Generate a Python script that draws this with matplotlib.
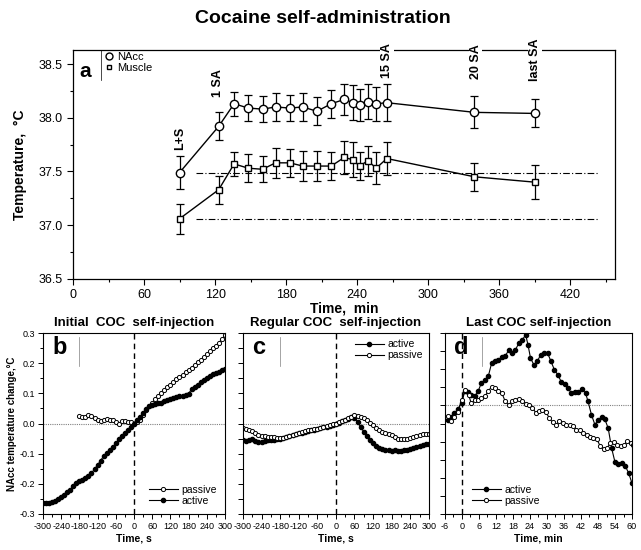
import matplotlib
matplotlib.use("Agg")
import matplotlib.pyplot as plt
from matplotlib.ticker import MultipleLocator
from matplotlib.lines import Line2D

plt.rcParams['font.family'] = ['Liberation Sans', 'DejaVu Sans']
plt.rcParams['axes.unicode_minus'] = False

# ---- panel a: NAcc / muscle temperature during the session
t_a = [90, 123, 136, 148, 160, 171, 183, 194, 206, 218, 229, 236, 242, 249, 256, 265, 339, 390]
nacc = [37.49, 37.92, 38.13, 38.09, 38.08, 38.10, 38.09, 38.10, 38.06, 38.13,
        38.17, 38.14, 38.12, 38.15, 38.13, 38.14, 38.05, 38.04]
nacc_err = [0.15, 0.13, 0.11, 0.12, 0.12, 0.13, 0.12, 0.13, 0.13, 0.13,
            0.14, 0.16, 0.15, 0.16, 0.16, 0.17, 0.15, 0.13]
muscle = [37.06, 37.33, 37.57, 37.53, 37.52, 37.58, 37.58, 37.55, 37.55, 37.55,
          37.63, 37.61, 37.55, 37.60, 37.53, 37.62, 37.45, 37.40]
muscle_err = [0.14, 0.13, 0.11, 0.13, 0.12, 0.14, 0.13, 0.14, 0.14, 0.13,
              0.15, 0.16, 0.13, 0.14, 0.15, 0.15, 0.13, 0.16]
base_nacc = 37.49
base_muscle = 37.06
events = [(90, 37.70, "L+S"), (122, 38.19, "1 SA"), (265, 38.37, "15 SA"),
          (340, 38.36, "20 SA"), (390, 38.34, "last SA")]

# ---- panel b: initial injection
t_b = list(range(-300, 301, 10))
b_active = [-0.265, -0.265, -0.263, -0.260, -0.257, -0.252, -0.245, -0.236, -0.228, -0.220,
            -0.207, -0.198, -0.192, -0.187, -0.182, -0.174, -0.165, -0.151, -0.138, -0.123,
            -0.108, -0.098, -0.088, -0.078, -0.066, -0.053, -0.043, -0.033, -0.022, -0.011,
            0.000, 0.010, 0.022, 0.034, 0.047, 0.057, 0.061, 0.064, 0.067, 0.069,
            0.073, 0.078, 0.081, 0.084, 0.087, 0.090, 0.092, 0.096, 0.099, 0.114,
            0.122, 0.129, 0.137, 0.145, 0.151, 0.157, 0.163, 0.168, 0.172, 0.176, 0.180]
t_b_pas = list(range(-180, 301, 10))
b_passive = [0.024, 0.022, 0.020, 0.027, 0.025, 0.019, 0.012, 0.009, 0.013, 0.014,
             0.012, 0.010, 0.005, 0.000, 0.008, 0.007, 0.005, 0.006, 0.000, 0.005,
             0.010, 0.028, 0.045, 0.058, 0.068, 0.080, 0.090, 0.100, 0.110, 0.120,
             0.129, 0.138, 0.146, 0.153, 0.161, 0.170, 0.177, 0.185, 0.194, 0.203,
             0.211, 0.220, 0.230, 0.240, 0.252, 0.258, 0.268, 0.280, 0.292]

# ---- panel c: regular injection
t_c = list(range(-300, 301, 10))
c_active = [-0.056, -0.058, -0.055, -0.053, -0.057, -0.062, -0.060, -0.057, -0.056, -0.055,
            -0.054, -0.052, -0.050, -0.047, -0.044, -0.042, -0.039, -0.036, -0.033, -0.030,
            -0.027, -0.025, -0.022, -0.020, -0.018, -0.016, -0.013, -0.010, -0.007, -0.004,
            -0.001, 0.003, 0.007, 0.011, 0.016, 0.021, 0.018, 0.005, -0.012, -0.027,
            -0.042, -0.055, -0.066, -0.074, -0.080, -0.085, -0.088, -0.089, -0.090, -0.089,
            -0.090, -0.090, -0.089, -0.087, -0.085, -0.081, -0.077, -0.074, -0.071, -0.069, -0.068]
c_passive = [-0.014, -0.018, -0.022, -0.026, -0.032, -0.038, -0.041, -0.043, -0.044, -0.045,
             -0.046, -0.048, -0.049, -0.047, -0.044, -0.041, -0.038, -0.035, -0.032, -0.029,
             -0.026, -0.023, -0.021, -0.019, -0.017, -0.015, -0.012, -0.009, -0.006, -0.003,
             0.000, 0.004, 0.008, 0.012, 0.017, 0.023, 0.027, 0.026, 0.022, 0.017,
             0.010, 0.002, -0.006, -0.014, -0.022, -0.028, -0.032, -0.035, -0.037, -0.045,
             -0.050, -0.050, -0.050, -0.050, -0.049, -0.046, -0.042, -0.038, -0.036, -0.035, -0.035]

# ---- panel d: last injection (minutes)
t_d_act = [-5, -3.8, -2.6, -1.4, 0, 1, 2.1, 3.3, 4.5, 5.7, 6.9, 8.1, 9.3, 10.5, 11.7, 12.9,
           14.1, 15.3, 16.5, 17.7, 18.9, 20.1, 21.3, 22.5, 23.3, 24.2, 25.4, 26.6, 27.8, 29,
           30.2, 31.4, 32.6, 33.8, 35, 36.2, 37.4, 38.6, 39.8, 41, 42.4, 43.6, 44.5, 45.7,
           46.9, 48.1, 49.3, 50.4, 51.6, 52.8, 54, 55.2, 56.4, 57.6, 58.8, 60]
d_active = [-0.041, -0.032, -0.021, -0.010, 0.008, 0.039, 0.036, 0.029, 0.025, 0.039,
            0.062, 0.071, 0.080, 0.117, 0.122, 0.126, 0.134, 0.137, 0.152, 0.145,
            0.154, 0.172, 0.181, 0.195, 0.168, 0.131, 0.112, 0.122, 0.140, 0.145,
            0.145, 0.122, 0.099, 0.085, 0.066, 0.060, 0.048, 0.034, 0.036, 0.036,
            0.045, 0.034, 0.011, -0.026, -0.053, -0.040, -0.032, -0.038, -0.063, -0.118,
            -0.157, -0.161, -0.159, -0.167, -0.187, -0.215]
t_d_pas = [-5, -3.8, -2.6, -1.4, 0, 1.2, 2.4, 3.3, 4.5, 5.7, 6.9, 8.1, 9.3, 10.5, 11.7, 12.9,
           14.1, 15.3, 16.5, 17.7, 18.9, 20.1, 21.3, 22.5, 23.7, 24.9, 26.1, 27.2, 28.4, 29.6,
           30.8, 32, 33.2, 34.4, 35.6, 36.8, 38, 39.2, 40.4, 41.6, 42.8, 44, 45.2, 46.4,
           47.6, 48.8, 50, 51.2, 52.4, 53.6, 54.8, 56, 57.2, 58.4, 59.6, 60.2]
d_passive = [-0.030, -0.044, -0.032, -0.017, 0.016, 0.043, 0.029, 0.006, 0.014, 0.016,
             0.020, 0.025, 0.039, 0.052, 0.048, 0.041, 0.034, 0.011, 0.002, 0.011,
             0.016, 0.017, 0.011, 0.005, 0.002, -0.006, -0.021, -0.015, -0.014, -0.017,
             -0.035, -0.047, -0.053, -0.044, -0.049, -0.053, -0.053, -0.056, -0.067, -0.067,
             -0.076, -0.081, -0.086, -0.090, -0.093, -0.113, -0.121, -0.118, -0.104, -0.102,
             -0.109, -0.113, -0.109, -0.097, -0.104, -0.109]

fig = plt.figure(figsize=(6.41, 5.5), dpi=100)
fig.text(0.503, 0.967, "Cocaine self-administration", ha="center", va="center",
         fontsize=14, fontweight="bold")

# ================= panel a
ax = fig.add_axes([0.114, 0.493, 0.846, 0.416])
ax.errorbar(t_a, nacc, yerr=nacc_err, fmt="-o", color="black", mfc="white", ms=6,
            lw=1, elinewidth=0.9, capsize=3, capthick=0.9, zorder=3)
ax.errorbar(t_a, muscle, yerr=muscle_err, fmt="-s", color="black", mfc="white", ms=4.5,
            lw=1, elinewidth=0.9, capsize=3, capthick=0.9, zorder=3)
ax.plot([104, 443], [base_nacc, base_nacc], color="black", lw=0.8,
        linestyle=(0, (6, 2, 1, 2)), zorder=1)
ax.plot([104, 443], [base_muscle, base_muscle], color="black", lw=0.8,
        linestyle=(0, (6, 2, 1, 2)), zorder=1)
for x, y, s in events:
    ax.text(x, y, s, rotation=90, ha="center", va="bottom", fontsize=9, fontweight="bold",
            bbox=dict(facecolor="white", edgecolor="none", pad=0.5), clip_on=False, zorder=5)
ax.set_xlim(0, 458)
ax.set_ylim(36.5, 38.63)
ax.xaxis.set_major_locator(MultipleLocator(60))
ax.xaxis.set_minor_locator(MultipleLocator(30))
ax.yaxis.set_major_locator(MultipleLocator(0.5))
ax.yaxis.set_minor_locator(MultipleLocator(0.25))
ax.tick_params(which="both", direction="out", labelsize=9, width=0.8)
ax.tick_params(which="major", length=4)
ax.tick_params(which="minor", length=2.5)
ax.set_xlabel("Time,  min", fontsize=10, fontweight="bold", labelpad=0)
ax.set_ylabel("Temperature,  °C", fontsize=10, fontweight="bold", labelpad=8)
ax.text(0.012, 0.905, "a", transform=ax.transAxes, fontsize=15, fontweight="bold",
        ha="left", va="center")
ax.plot([0.052, 0.052], [0.87, 1.0], transform=ax.transAxes, color="black", lw=0.5)
h1 = Line2D([], [], marker="o", color="black", mfc="white", ms=5, lw=0)
h2 = Line2D([], [], marker="s", color="black", mfc="white", ms=3.5, lw=0)
ax.legend([h1, h2], ["NAcc", "Muscle"], loc="upper left", bbox_to_anchor=(0.045, 1.02),
          frameon=False, fontsize=8, handlelength=0.8, handletextpad=0.4,
          labelspacing=0.1, borderaxespad=0.2)
for sp in ax.spines.values():
    sp.set_linewidth(0.9)

tick_font = ['Liberation Sans Narrow', 'Liberation Sans']


def small_panel(rect, xlim, ylim, letter, title, xlabel):
    a = fig.add_axes(rect)
    a.set_xlim(*xlim)
    a.set_ylim(*ylim)
    a.axhline(0, color="gray", lw=0.8, linestyle=(0, (1, 1)), zorder=1)
    a.axvline(0, color="black", lw=1, linestyle=(0, (4, 3)), zorder=1)
    a.tick_params(which="both", direction="out", labelsize=6.5, width=0.7, pad=2)
    a.tick_params(which="major", length=3.5)
    a.tick_params(which="minor", length=2)
    a.set_xlabel(xlabel, fontsize=7.5, fontweight="bold", labelpad=2)
    a.set_title(title, fontsize=9.5, fontweight="bold", pad=5)
    a.text(0.05, 0.92, letter, transform=a.transAxes, fontsize=17, fontweight="bold",
           ha="left", va="center")
    a.plot([0.2, 0.2], [0.82, 0.98], transform=a.transAxes, color="gray", lw=0.5)
    for sp in a.spines.values():
        sp.set_linewidth(0.8)
    return a


def narrow_ticks(a):
    for lab in a.get_xticklabels() + a.get_yticklabels():
        lab.set_family(tick_font)


# ================= panel b
axb = small_panel([0.067, 0.0655, 0.284, 0.329], (-300, 300), (-0.3, 0.3), "b",
                  "Initial  COC  self-injection", "Time, s")
axb.plot(t_b_pas, b_passive, "-o", color="black", mfc="white", ms=3, mew=0.7, lw=0.8,
         label="passive")
axb.plot(t_b, b_active, "-o", color="black", ms=3, lw=0.8, label="active")
axb.xaxis.set_major_locator(MultipleLocator(60))
axb.xaxis.set_minor_locator(MultipleLocator(30))
axb.set_yticks([-0.3, -0.2, -0.1, 0.0, 0.1, 0.2, 0.3])
axb.set_yticklabels(["-0.3", "-0.2", "-0.1", "0.0", "0.1", "0.2", "0.3"])
axb.yaxis.set_minor_locator(MultipleLocator(0.05))
axb.set_ylim(-0.3, 0.3)
axb.set_ylabel("NAcc temperature change,°C", fontsize=7, fontweight="bold", labelpad=2)
axb.legend(loc="lower right", frameon=False, fontsize=7.5, handlelength=2.8,
           handletextpad=0.3, labelspacing=0.1, borderaxespad=0.4)
narrow_ticks(axb)

# ================= panel c
axc = small_panel([0.379, 0.0655, 0.290, 0.329], (-300, 300), (-0.3, 0.3), "c",
                  "Regular COC  self-injection", "Time, s")
axc.plot(t_c, c_active, "-o", color="black", ms=3, lw=0.8, label="active")
axc.plot(t_c, c_passive, "-o", color="black", mfc="white", ms=3, mew=0.7, lw=0.8,
         label="passive")
axc.xaxis.set_major_locator(MultipleLocator(60))
axc.xaxis.set_minor_locator(MultipleLocator(30))
axc.yaxis.set_major_locator(MultipleLocator(0.05))
axc.set_yticklabels([])
axc.legend(loc="upper right", frameon=False, fontsize=7.5, handlelength=2.8,
           handletextpad=0.3, labelspacing=0.1, borderaxespad=0.2)
narrow_ticks(axc)

# ================= panel d
axd = small_panel([0.694, 0.0655, 0.292, 0.329], (-6, 60), (-0.3, 0.2), "d",
                  "Last COC self-injection", "Time, min")
axd.plot(t_d_act, d_active, "-o", color="black", ms=3, lw=0.8, label="active")
axd.plot(t_d_pas, d_passive, "-o", color="black", mfc="white", ms=3, mew=0.7, lw=0.8,
         label="passive")
axd.xaxis.set_major_locator(MultipleLocator(6))
axd.xaxis.set_minor_locator(MultipleLocator(3))
axd.yaxis.set_major_locator(MultipleLocator(0.05))
axd.set_yticklabels([])
axd.legend(loc="lower left", bbox_to_anchor=(0.1, 0.0), frameon=False, fontsize=7.5,
           handlelength=2.8, handletextpad=0.3, labelspacing=0.1, borderaxespad=0.4)
narrow_ticks(axd)

fig.savefig("out.png", dpi=100)
